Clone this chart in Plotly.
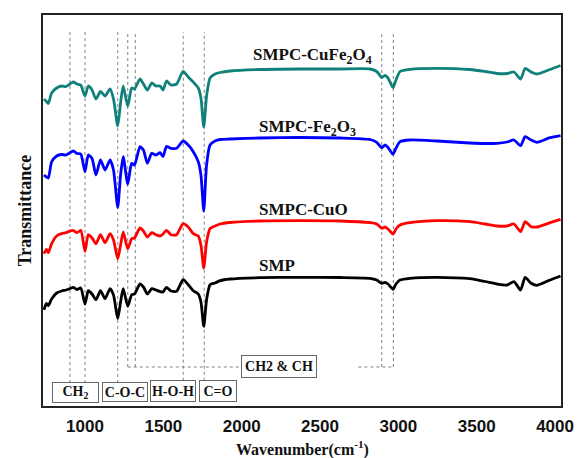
import plotly.graph_objects as go

# Wavenumber grid (cm^-1) shared by all spectra
wavenumber = [738, 754, 766, 787, 819, 851, 879, 904, 925, 949,
              973, 1000, 1021, 1045, 1070, 1099, 1128, 1160, 1182, 1209,
              1227, 1244, 1273, 1298, 1316, 1351, 1373, 1398, 1426, 1453,
              1479, 1498, 1520, 1549, 1585, 1626, 1659, 1691, 1723, 1740,
              1758, 1776, 1798, 1830, 1862, 1926, 2117, 2372, 2628, 2819,
              2862, 2894, 2915, 2934, 2966, 2985, 3011, 3074, 3247, 3457,
              3553, 3630, 3694, 3738, 3780, 3809, 3847, 3885, 3968, 4035]

# Transmittance (arbitrary units, stacked)
t_cufe2o4 = [307, 304.5, 302.5, 313, 318, 320, 319.5, 322, 324, 322,
             321, 310, 320, 316, 307, 314.5, 310, 317, 307, 280,
             303, 320, 300, 318, 317, 327, 322, 316, 323, 320,
             320, 316, 325, 321, 322, 334.5, 329, 324, 318, 308,
             279, 310, 328, 332, 333.5, 335, 336.5, 337, 337, 337,
             334.5, 328.5, 330.5, 328, 318.5, 326, 334.5, 336.7, 337.7, 336.5,
             334.5, 332.5, 332.5, 334, 327, 337.5, 334, 332, 336.5, 340.5]
t_fe2o3 = [231, 229, 228, 244, 250, 251.5, 251, 253.3, 255, 252.5,
           252, 234.3, 251, 247.5, 231, 246, 236, 246, 236, 198.5,
           231, 249.3, 222, 242.7, 241, 259.3, 256, 242.7, 252.7, 251,
           253.3, 249.5, 259.5, 257.7, 257.7, 265, 261, 254.3, 244.3, 231,
           195, 241, 261, 265, 266.5, 267, 268, 268.5, 268, 266.5,
           263.7, 258.3, 261, 258.5, 251.7, 258, 264.3, 266, 265, 263,
           262.5, 262.7, 264, 266, 260.3, 269.3, 266, 263.7, 268.3, 270.3]
t_cuo = [152.3, 156.5, 153.3, 162.3, 170, 172.3, 173.3, 175, 175.5, 173.3,
         175.7, 154.7, 171.3, 168, 162.3, 171.3, 163.3, 172.3, 166, 147.3,
         161, 174, 157.3, 167.3, 168, 178, 175, 169, 173.3, 171.3,
         170, 172, 175.7, 171.3, 171.3, 182.3, 179, 172.3, 170, 161,
         138, 164, 177.3, 180, 182, 183.5, 185, 185.3, 185, 183.3,
         182, 177.7, 179, 177, 172, 177, 181, 183.3, 185.3, 184.3,
         182, 180, 180, 182, 174.3, 184.3, 179.3, 179, 183.3, 186.7]
t_smp = [96.3, 102.5, 100.5, 107, 113, 115, 116, 117.5, 118.7, 116.5,
         118, 102, 115.3, 112, 106.3, 115.3, 107.3, 117.3, 111, 87.3,
         104, 117.3, 99.7, 111.3, 112, 122, 119, 112, 117.3, 116,
         114.5, 114, 118.7, 115, 114.7, 126.3, 121.3, 115.3, 112, 104,
         79.7, 106.3, 121.3, 123, 125.3, 127, 128.3, 128.7, 128.5, 127.7,
         126, 122.7, 123.5, 122, 116.7, 122, 126, 127.7, 128.7, 127.3,
         124.5, 122, 121, 124.3, 116, 128.7, 122.7, 120.7, 126, 130]

series_names = ["SMPC-CuFe2O4", "SMPC-Fe2O3", "SMPC-CuO", "SMP"]
series_colors = ["#10807a", "#0000ff", "#ff0000", "#000000"]
series_values = [t_cufe2o4, t_fe2o3, t_cuo, t_smp]

# Curve labels
label_texts = ["SMPC-CuFe<sub>2</sub>O<sub>4</sub>", "SMPC-Fe<sub>2</sub>O<sub>3</sub>",
               "SMPC-CuO", "SMP"]
label_x = [2450, 2420, 2392, 2225]
label_y = [350, 278, 196.5, 141]

# Band assignments
band_lines = [904, 1000, 1209, 1273, 1321, 1627, 1761, 2894, 2968]
band_line_bottom = [23, 23, 23, 39, 39, 25.3, 25.3, 39, 39]
band_top = 374
group_texts = ["CH<sub>2</sub>", "C-O-C", "H-O-H", "C=O", "CH2 &amp; CH"]
group_x = [941, 1255, 1560, 1851, 2241]
group_y = [13.7, 14.5, 14.8, 14.8, 39.2]
group_w = [45, 44, 44, 36, 74]
group_h = [19, 18, 20, 20, 21]
link_y = 39
link_left = [1273, 2745]
link_right = [2004, 2968]

SERIF = "Liberation Serif, Times New Roman, serif"
SANS = "Liberation Sans, Arial, sans-serif"

fig = go.Figure()
for name, color, vals in zip(series_names, series_colors, series_values):
    fig.add_trace(go.Scatter(x=wavenumber, y=vals, mode="lines", name=name,
                             line=dict(color=color, width=2.8, shape="spline", smoothing=0.6)))

shapes = []
for xv, yb in zip(band_lines, band_line_bottom):
    shapes.append(dict(type="line", x0=xv, x1=xv, y0=yb, y1=band_top, xref="x", yref="y",
                       line=dict(color="#808080", width=1, dash="dot"), layer="below"))
for x0, x1 in zip(link_left, link_right):
    shapes.append(dict(type="line", x0=x0, x1=x1, y0=link_y, y1=link_y, xref="x", yref="y",
                       line=dict(color="#808080", width=1, dash="dot"), layer="below"))

annotations = []
for t, xv, yv in zip(label_texts, label_x, label_y):
    annotations.append(dict(x=xv, y=yv, text=t, showarrow=False, xref="x", yref="y",
                            font=dict(family=SERIF, size=17, color="#111", weight="bold")))
for t, xv, yv, w, h in zip(group_texts, group_x, group_y, group_w, group_h):
    annotations.append(dict(x=xv, y=yv, text=t, showarrow=False, xref="x", yref="y",
                            width=w, height=h, bordercolor="#666", borderwidth=1,
                            borderpad=0, bgcolor="white",
                            font=dict(family=SERIF, size=14, color="#111", weight="bold")))
# Axis titles
annotations.append(dict(x=0.5, y=-0.109, xref="paper", yref="paper", showarrow=False,
                        text="Wavenumber(cm<sup>-1</sup>)", xanchor="center", yanchor="middle",
                        font=dict(family=SERIF, size=16, color="#111", weight="bold")))
annotations.append(dict(x=-0.035, y=0.5, xref="paper", yref="paper", showarrow=False,
                        text="Transmittance", textangle=-90, xanchor="center", yanchor="middle",
                        font=dict(family=SERIF, size=18, color="#111", weight="bold")))

fig.update_layout(
    width=577, height=458,
    margin=dict(l=43, r=16, t=15, b=52),
    plot_bgcolor="white", paper_bgcolor="white",
    showlegend=False,
    shapes=shapes, annotations=annotations,
    xaxis=dict(range=[732, 4038], tickvals=[1000, 1500, 2000, 2500, 3000, 3500, 4000],
               ticks="", showgrid=False, zeroline=False, showline=True, mirror=True,
               linecolor="#222", linewidth=1.5, ticklabelstandoff=4, automargin=False,
               tickfont=dict(family=SANS, size=17, color="#111", weight="bold")),
    yaxis=dict(range=[0, 391], showticklabels=False, ticks="", showgrid=False,
               zeroline=False, showline=True, mirror=True, linecolor="#222", linewidth=1.5,
               automargin=False),
)

fig.write_html("out.html")
